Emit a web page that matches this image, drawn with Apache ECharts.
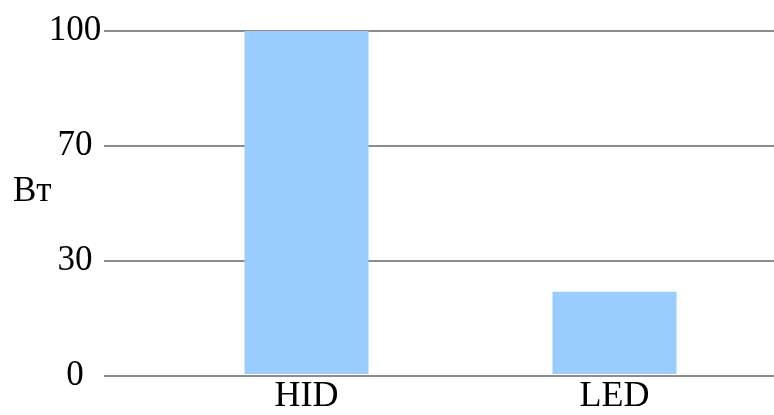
<!DOCTYPE html>
<html>
<head>
<meta charset="utf-8">
<script src="https://cdn.jsdelivr.net/npm/echarts@6/dist/echarts.min.js"></script>
<style>
  html, body { margin: 0; padding: 0; background: #fff; }
  #chart { width: 774px; height: 415px; }
</style>
</head>
<body>
<div id="chart"></div>
<script>
// Power draw of two lamp types, in watts
const categories = ['HID', 'LED'];
const watts = [100, 24];
const yTickLabels = ['0', '30', '70', '100'];
const unitLabel = 'Вт';

const FONT = "'Liberation Serif', 'Times New Roman', serif";
const yMax = 100;
const step = yMax / (yTickLabels.length - 1);

const chart = echarts.init(document.getElementById('chart'));
chart.setOption({
  animation: false,
  backgroundColor: '#ffffff',
  grid: [
    { left: 104, right: 0, top: 31, bottom: 39 },
    { left: 152.5, right: 5.5, top: 31, bottom: 39 }
  ],
  graphic: [{
    type: 'text',
    left: 13,
    top: 174,
    style: { text: unitLabel, font: '35px ' + FONT, fill: '#000' }
  }],
  xAxis: [
    { type: 'category', gridIndex: 0, data: [''], show: false },
    {
      type: 'category', gridIndex: 1, data: categories,
      axisLine: { show: false }, axisTick: { show: false },
      axisLabel: { fontFamily: FONT, fontSize: 36, color: '#000', margin: 5 }
    }
  ],
  yAxis: [
    {
      type: 'value', gridIndex: 0, min: 0, max: yMax, interval: step,
      axisLine: { show: false }, axisTick: { show: false },
      axisLabel: {
        fontFamily: FONT, fontSize: 35, color: '#000',
        align: 'center', margin: 29,
        formatter: v => yTickLabels[Math.round(v / step)] ?? ''
      },
      splitLine: { lineStyle: { color: '#8c8c8c', width: 2 } }
    },
    { type: 'value', gridIndex: 1, min: 0, max: yMax, show: false }
  ],
  series: [{
    type: 'bar',
    xAxisIndex: 1, yAxisIndex: 1,
    data: watts,
    barWidth: 124,
    itemStyle: { color: '#99ccff' }
  }]
});
</script>
</body>
</html>
